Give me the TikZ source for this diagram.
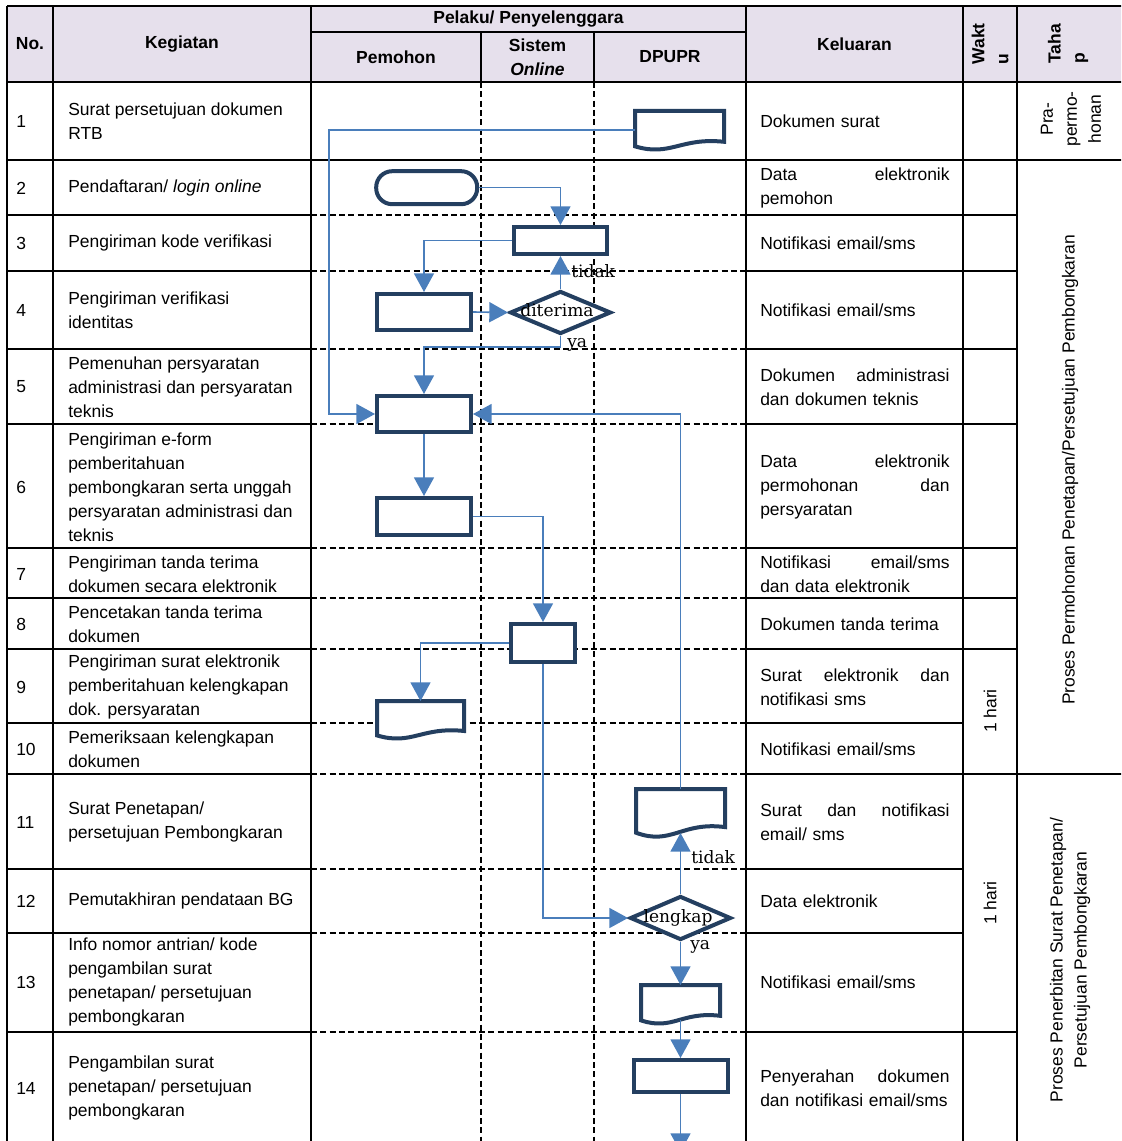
\documentclass[tikz,border=0pt]{standalone}
\usepackage{fontspec}
\newfontfamily\arial{Liberation Sans}
\newfontfamily\lblserif{DejaVu Serif}
\usetikzlibrary{arrows.meta,shapes.geometric,calc}
\definecolor{hdrfill}{RGB}{230,224,236}
\definecolor{shpnavy}{RGB}{36,63,96}
\definecolor{conblue}{RGB}{74,126,187}
\newcommand\docoutline[1]{%
 \draw[shpline] let \p1=(#1.north west), \p2=(#1.south east) in
   (\x1,\y1) -- (\x2,\y1) -- (\x2,{\y2+0.19*(\y1-\y2)})
   .. controls ({\x2-0.49*(\x2-\x1)},{\y2+0.31*(\y1-\y2)}) and ({\x1+0.40*(\x2-\x1)},{\y2-0.21*(\y1-\y2)}) .. (\x1,{\y2+0.07*(\y1-\y2)}) -- cycle;}
\begin{document}
\begin{tikzpicture}[x=0.75pt,y=-0.75pt,
  tbl/.style={line width=1.2pt, draw=black},
  tbldash/.style={line width=1.0pt, draw=black, dash pattern=on 4.5pt off 2.5pt},
  shp/.style={draw=shpnavy, line width=3pt, fill=white, inner sep=0pt},
  shpline/.style={draw=shpnavy, line width=3pt, fill=white, line join=miter},
  docnode/.style={draw=none, inner sep=0pt, outer sep=0pt},
  conn/.style={draw=conblue, line width=1.2pt, -{Triangle[length=14pt,width=15pt]}},
  hd/.style={font=\arial\fontsize{13.1}{18}\selectfont\bfseries, inner sep=0pt},
  txt/.style={font=\arial\fontsize{13.1}{18}\selectfont, inner sep=0pt, anchor=west, align=left},
  kel/.style={txt, text width=142pt},
  tb/.style={font=\arial\fontsize{13.1}{18}\selectfont, inner sep=0pt, rotate=90},
  lbl/.style={font=\lblserif\fontsize{12.8}{16}\selectfont, inner sep=0pt}
]
\useasboundingbox (0,0) rectangle (1121,1141);
\clip (0,0) rectangle (1121,1141);
\fill[hdrfill] (7,6) rectangle (1125,82);

% vertical lines
\foreach \x in {7,53,311,746,963,1017} \draw[tbl] (\x,6) -- (\x,1145);
\draw[tbl] (481,32) -- (481,82);
\draw[tbl] (594,32) -- (594,82);
\draw[tbldash] (481,82) -- (481,1145);
\draw[tbldash] (594,82) -- (594,1145);
% horizontal lines
\draw[tbl] (7,6) -- (1125,6);
\draw[tbl] (311,32) -- (746,32);
\draw[tbl] (7,82) -- (1125,82);
\draw[tbl] (7,160) -- (1125,160);
\foreach \y in {215,271,349,424,548,598,649,723,774,869,933,1032} {
  \draw[tbl] (7,\y) -- (311,\y);
  \draw[tbldash] (311,\y) -- (746,\y);
  \draw[tbl] (746,\y) -- (963,\y);
}
\foreach \y in {215,271,349,424,548,598,649,774,1032} \draw[tbl] (963,\y) -- (1017,\y);
\draw[tbl] (1017,774) -- (1125,774);

% header
\node[hd] (hno) at (30,44) {No.};
\node[hd] (hkeg) at (182,44) {Kegiatan};
\node[hd] (hpel) at (528.5,19) {Pelaku/ Penyelenggara};
\node[hd] (hpem) at (396,57) {Pemohon};
\node[hd,align=center] (hsis) at (537.5,57) {Sistem\\\textit{Online}};
\node[hd] (hdp) at (670,57) {DPUPR};
\node[hd] (hkel) at (854.5,44) {Keluaran};
\node[hd,rotate=90,align=left] (hwak) at (990,44) {Wakt\\u};
\node[hd,rotate=90,align=left] (htah) at (1068,44) {Taha\\p};

% numbers
\foreach \n/\y in {1/121,2/188,3/243,4/310,5/387,6/487,7/574,8/624,9/687,10/749,11/822,12/901,13/982,14/1088}
  \node[txt] (n\n) at (16,\y) {\n};

% kegiatan
\node[txt] (k1) at (68,121) {Surat persetujuan dokumen\\RTB};
\node[txt] (k2) at (68,188) {Pendaftaran/ \textit{login online}};
\node[txt] (k3) at (68,243) {Pengiriman kode verifikasi};
\node[txt] (k4) at (68,310) {Pengiriman verifikasi\\identitas};
\node[txt] (k5) at (68,387) {Pemenuhan persyaratan\\administrasi dan persyaratan\\teknis};
\node[txt] (k6) at (68,487) {Pengiriman e-form\\pemberitahuan\\pembongkaran serta unggah\\persyaratan administrasi dan\\teknis};
\node[txt] (k7) at (68,574) {Pengiriman tanda terima\\dokumen secara elektronik};
\node[txt] (k8) at (68,624) {Pencetakan tanda terima\\dokumen};
\node[txt] (k9) at (68,687) {Pengiriman surat elektronik\\pemberitahuan kelengkapan\\dok. persyaratan};
\node[txt] (k10) at (68,749) {Pemeriksaan kelengkapan\\dokumen};
\node[txt] (k11) at (68,822) {Surat Penetapan/\\persetujuan Pembongkaran};
\node[txt] (k12) at (68,901) {Pemutakhiran pendataan BG};
\node[txt] (k13) at (68,982) {Info nomor antrian/ kode\\pengambilan surat\\penetapan/ persetujuan\\pembongkaran};
\node[txt] (k14) at (68,1088) {Pengambilan surat\\penetapan/ persetujuan\\pembongkaran};

% keluaran
\node[kel] (o1) at (760,121) {Dokumen surat};
\node[kel] (o2) at (760,188) {Data\hfill elektronik\\pemohon};
\node[kel] (o3) at (760,243) {Notifikasi email/sms};
\node[kel] (o4) at (760,310) {Notifikasi email/sms};
\node[kel] (o5) at (760,387) {Dokumen\hfill administrasi\\dan dokumen teknis};
\node[kel] (o6) at (760,487) {Data\hfill elektronik\\permohonan\hfill dan\\persyaratan};
\node[kel] (o7) at (760,574) {Notifikasi\hfill email/sms\\dan data elektronik};
\node[kel] (o8) at (760,624) {Dokumen tanda terima};
\node[kel] (o9) at (760,687) {Surat\hfill elektronik\hfill dan\\notifikasi sms};
\node[kel] (o10) at (760,749) {Notifikasi email/sms};
\node[kel] (o11) at (760,822) {Surat\hfill dan\hfill notifikasi\\email/ sms};
\node[kel] (o12) at (760,901) {Data elektronik};
\node[kel] (o13) at (760,982) {Notifikasi email/sms};
\node[kel] (o14) at (760,1088) {Penyerahan\hfill dokumen\\dan notifikasi email/sms};

% waktu & tahap
\node[tb] (w1) at (990,711) {1 hari};
\node[tb] (w2) at (990,903) {1 hari};
\node[tb,align=center] (t1) at (1071,119) {Pra-\\permo-\\honan};
\node[tb] (t2) at (1070,470) {Proses Permohonan Penetapan/Persetujuan Pembongkaran};
\node[tb,align=center] (t3) at (1070,960) {Proses Penerbitan Surat Penetapan/\\Persetujuan Pembongkaran};

% flow shapes
\node[shp, rounded corners=12pt, minimum width=75.75pt, minimum height=24.75pt] (term) at (426.7,187.7) {};
\node[shp, minimum width=69.75pt, minimum height=20.25pt] (box3) at (560.5,240.5) {};
\node[shp, minimum width=70.5pt, minimum height=27pt] (box4) at (424,312) {};
\node[shp, diamond, minimum width=75.75pt, minimum height=32.25pt] (dia1) at (560.5,312.5) {};
\node[lbl] (dia1t) at (557,310) {diterima};
\node[shp, minimum width=70.5pt, minimum height=27pt] (box5) at (424,414) {};
\node[shp, minimum width=70.5pt, minimum height=27.75pt] (box6) at (424,516.5) {};
\node[shp, minimum width=48pt, minimum height=28.5pt] (box8) at (543,643) {};
\node[shp, diamond, minimum width=75.75pt, minimum height=33pt] (dia2) at (680.5,918) {};
\node[lbl] (dia2t) at (678,918) {lengkap};
\node[shp, minimum width=70.5pt, minimum height=24pt] (box14) at (680.5,1076) {};
\node[docnode, minimum width=66.75pt, minimum height=28.5pt] (doc1) at (679.5,130) {};
\node[docnode, minimum width=65.25pt, minimum height=27.75pt] (doc9) at (420.5,719.5) {};
\node[docnode, minimum width=66.75pt, minimum height=35.25pt] (doc11) at (680.5,812.5) {};
\node[docnode, minimum width=59.25pt, minimum height=28.5pt] (doc13) at (680.5,1004) {};
\docoutline{doc1}
\docoutline{doc9}
\docoutline{doc11}
\docoutline{doc13}

% connectors
\coordinate (c1) at (329,130);
\draw[conn] (doc1.west) -- (c1) |- (box5.west);
\draw[conn] (term.east) -| (box3.north);
\draw[conn] (box3.west) -| (box4.north);
\draw[conn] (box4.east) -- (dia1.west);
\draw[conn] (dia1.north) -- (box3.south);
\coordinate (c2) at (560.5,347);
\draw[conn] (dia1.south) -- (c2) -| (box5.north);
\draw[conn] (box5.south) -- (box6.north);
\draw[conn] (box6.east) -| (box8.north);
\draw[conn] (box8.west) -| (doc9.north);
\draw[conn] (box8.south) |- (dia2.west);
\draw[conn] (doc11.north) |- (box5.east);
\draw[conn] (dia2.north) -- ($(doc11.south)+(0,-3)$);
\draw[conn] (dia2.south) -- (doc13.north);
\draw[conn] ($(doc13.south)+(0,-3)$) -- (box14.north);
\coordinate (c3) at (680.5,1152);
\draw[conn] (box14.south) -- (c3);

% connector labels
\node[lbl, anchor=west] (lt1) at (571,271) {tidak};
\node[lbl, anchor=west] (ly1) at (567,345) {ya};
\node[lbl, anchor=west] (lt2) at (691,857) {tidak};
\node[lbl, anchor=west] (ly2) at (690,947) {ya};
\end{tikzpicture}
\end{document}
